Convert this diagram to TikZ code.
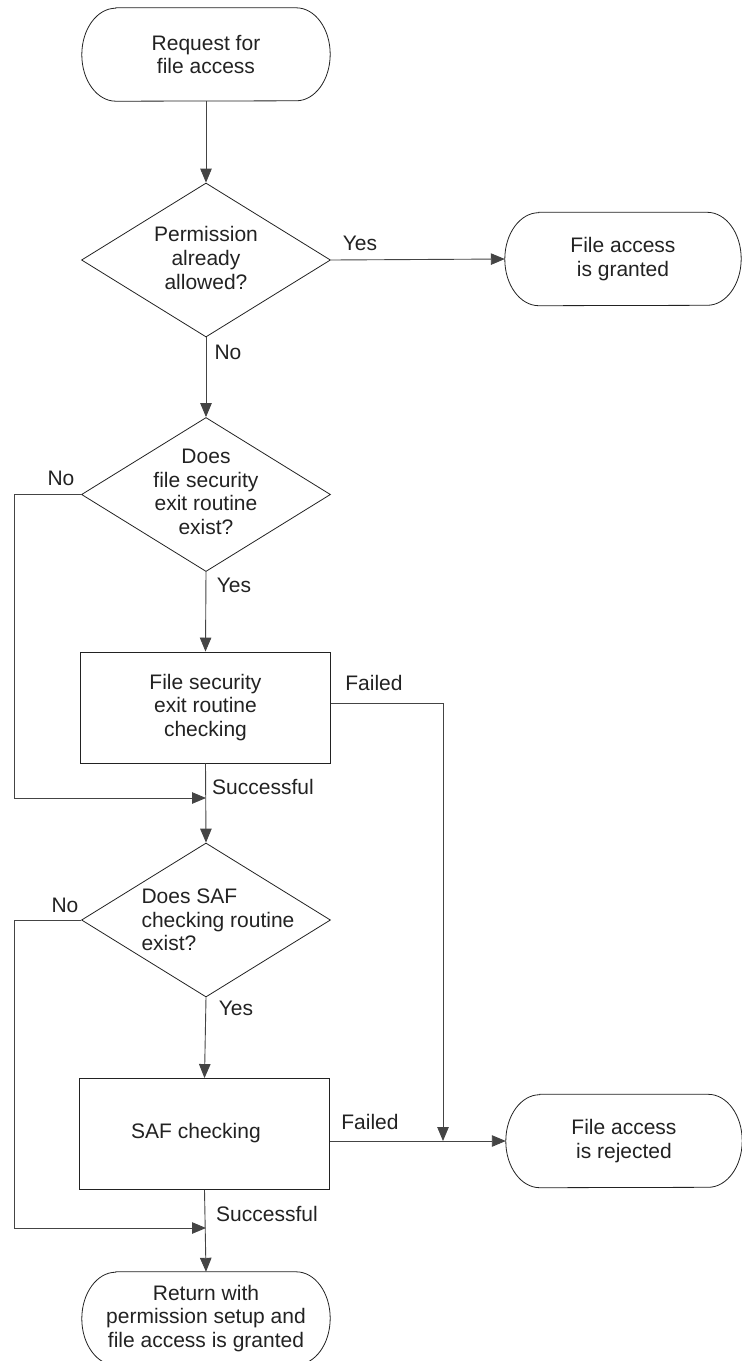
\documentclass[tikz,border=0pt]{standalone}
\usepackage{fontspec}
\setmainfont{Liberation Sans}
\usetikzlibrary{arrows.meta,shapes.geometric}
\definecolor{ink}{HTML}{222222}
\definecolor{wire}{HTML}{444444}
\newcommand{\drawterm}[1]{%
  \draw[shapeline] ([xshift=34pt]#1.north west) -- ([xshift=-34pt]#1.north east)
    arc[start angle=90,end angle=-90,x radius=34pt,y radius=46.5pt]
    -- ([xshift=34pt]#1.south west)
    arc[start angle=270,end angle=90,x radius=34pt,y radius=46.5pt] -- cycle;}
\begin{document}
\begin{tikzpicture}[x=1pt,y=-1pt,
  txt/.style={font=\fontsize{21}{23.7}\selectfont, text=ink, align=center},
  term/.style={txt, rectangle, minimum width=248pt, minimum height=93pt, inner sep=0pt},
  proc/.style={txt, rectangle, draw=ink, line width=0.9pt, minimum width=250pt, minimum height=111pt, inner sep=0pt},
  decision/.style={diamond, draw=ink, line width=0.8pt, minimum width=249pt, minimum height=154pt, inner sep=0pt},
  shapeline/.style={draw=ink, line width=0.8pt},
  wireline/.style={draw=wire, line width=0.9pt},
  arrow/.style={wireline, -{Triangle[length=14pt,width=11.5pt]}},
  lbl/.style={font=\fontsize{21}{23.7}\selectfont, text=ink, inner sep=0pt}
]
\useasboundingbox (0,0) rectangle (742,1361);

% nodes
\node[term] (t1) at (206,54.5) {Request for\\file access};
\node[decision] (d1) at (206,260) {};
\node[txt] (d1t) at (206,258) {Permission\\already\\allowed?};
\node[term, minimum width=236pt] (t2) at (623,259) {File access\\is granted};
\node[decision] (d2) at (206,494.5) {};
\node[txt] (d2t) at (206,492) {Does\\file security\\exit routine\\exist?};
\node[proc] (r1) at (205.5,707.5) {File security\\exit routine\\checking};
\node[decision] (d3) at (206,920) {};
\node[txt, align=left] (d3t) at (218,920) {Does SAF\\checking routine\\exist?};
\node[proc] (r2) at (204.5,1134) {};
\node[txt] (r2t) at (196,1133) {SAF checking};
\node[term, minimum width=236pt] (t3) at (624,1141) {File access\\is rejected};
\node[term] (t4) at (206,1318.5) {Return with\\permission setup and\\file access is granted};

\drawterm{t1}
\drawterm{t2}
\drawterm{t3}
\drawterm{t4}

% connectors
\draw[arrow] (t1.south) -- (d1.north);
\draw[arrow] (d1.east) -- (t2.west);
\node[lbl] (yes1) at (360,243) {Yes};
\draw[arrow] (d1.south) -- (d2.north);
\node[lbl] (no1) at (228,352) {No};

\coordinate (j1) at (206,798);
\draw[arrow] (d2.west) -- ++(-67,0) |- (j1);
\node[lbl] (no2) at (61,478) {No};
\draw[arrow] (d2.south) -- (r1.north);
\node[lbl] (yes2) at (234,585) {Yes};
\draw[arrow] (r1.south) -- (d3.north);
\node[lbl] (succ1) at (263,787) {Successful};

\coordinate (j3) at (443,1141);
\draw[arrow] ([yshift=4.5pt]r1.east) -| (j3);
\node[lbl] (fail1) at (374,683) {Failed};

\coordinate (j2) at (206,1228);
\draw[arrow] (d3.west) -- ++(-67,0) |- (j2);
\node[lbl] (no3) at (65,905) {No};
\draw[arrow] (d3.south) -- (r2.north);
\node[lbl] (yes3) at (236,1008) {Yes};
\draw[arrow] (r2.east |- t3.west) -- (t3.west);
\node[lbl] (fail2) at (370,1122) {Failed};
\draw[arrow] (r2.south) -- (t4.north);
\node[lbl] (succ2) at (267,1214) {Successful};
\end{tikzpicture}
\end{document}
